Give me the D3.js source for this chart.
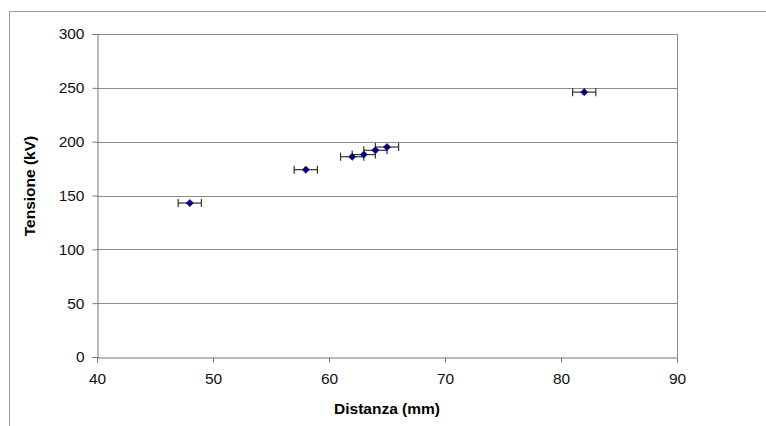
<!DOCTYPE html>
<html>
<head>
<meta charset="utf-8">
<script src="https://cdn.jsdelivr.net/npm/d3@7"></script>
<style>
  body { margin: 0; background: #fff; }
  text { font-family: "Liberation Sans", Arial, sans-serif; }
</style>
</head>
<body>
<script>
const distanza = [48, 58, 62, 63, 64, 65, 82]
const tensione = [143, 174, 186, 188, 192, 195, 246]
const errDistanza = [1, 1, 1, 1, 1, 1, 1]
const xTicks = [40, 50, 60, 70, 80, 90]
const yTicks = [0, 50, 100, 150, 200, 250, 300]

const width = 766, height = 426
const margin = { left: 97, right: 89, top: 34, bottom: 69 }

const svg = d3.select('body').append('svg')
    .attr('width', width)
    .attr('height', height)

// outer chart frame (only top and left are visible)
svg.append('path')
    .attr('d', `M9.5,${height} V11.5 H${width}`)
    .attr('fill', 'none')
    .attr('stroke', '#9a9a9a')
    .attr('stroke-width', 1)

const x = d3.scaleLinear().domain([40, 90]).range([margin.left, width - margin.right])
const y = d3.scaleLinear().domain([0, 300]).range([height - margin.bottom, margin.top])

// gridlines
svg.append('g').selectAll('line')
    .data(yTicks.slice(1))
    .enter().append('line')
    .attr('x1', x(40)).attr('x2', x(90))
    .attr('y1', d => Math.round(y(d)) + 0.5).attr('y2', d => Math.round(y(d)) + 0.5)
    .attr('stroke', '#8c8c8c')

// right border of plot area
svg.append('line')
    .attr('x1', Math.round(x(90)) + 0.5).attr('x2', Math.round(x(90)) + 0.5)
    .attr('y1', y(300)).attr('y2', y(0))
    .attr('stroke', '#8c8c8c')

const yAxis = svg.append('g')
    .attr('transform', `translate(${Math.round(x(40)) + 0.5},0)`)
    .call(d3.axisLeft(y).tickValues(yTicks).tickSize(5).tickPadding(8))
const xAxis = svg.append('g')
    .attr('transform', `translate(0,${Math.round(y(0)) + 0.5})`)
    .call(d3.axisBottom(x).tickValues(xTicks).tickSize(5).tickPadding(10))

;[yAxis, xAxis].forEach(a => {
    a.select('.domain').attr('stroke', '#777')
    a.selectAll('.tick line').attr('stroke', '#777')
    a.selectAll('.tick text')
        .attr('fill', '#111')
        .style('font-size', '15.5px')
        .style('font-family', '"Liberation Sans", Arial, sans-serif')
})

// error bars
const capH = 4
const eb = svg.append('g').selectAll('g')
    .data(distanza)
    .enter().append('g')
eb.append('line')
    .attr('x1', (d, i) => x(d - errDistanza[i]))
    .attr('x2', (d, i) => x(d + errDistanza[i]))
    .attr('y1', (d, i) => y(tensione[i]))
    .attr('y2', (d, i) => y(tensione[i]))
    .attr('stroke', '#333')
    .attr('stroke-width', 1.2)
eb.append('line')
    .attr('x1', (d, i) => x(d - errDistanza[i]))
    .attr('x2', (d, i) => x(d - errDistanza[i]))
    .attr('y1', (d, i) => y(tensione[i]) - capH)
    .attr('y2', (d, i) => y(tensione[i]) + capH)
    .attr('stroke', '#333')
    .attr('stroke-width', 1.2)
eb.append('line')
    .attr('x1', (d, i) => x(d + errDistanza[i]))
    .attr('x2', (d, i) => x(d + errDistanza[i]))
    .attr('y1', (d, i) => y(tensione[i]) - capH)
    .attr('y2', (d, i) => y(tensione[i]) + capH)
    .attr('stroke', '#333')
    .attr('stroke-width', 1.2)

// diamond markers
svg.append('g').selectAll('path')
    .data(distanza)
    .enter().append('path')
    .attr('d', (d, i) => {
        const cx = x(d), cy = y(tensione[i]), r = 3.6
        return `M${cx},${cy - r} L${cx + r},${cy} L${cx},${cy + r} L${cx - r},${cy} Z`
    })
    .attr('fill', '#000080')
    .attr('stroke', '#000080')
    .attr('stroke-width', 0.6)

// axis titles
svg.append('text')
    .attr('x', x(65))
    .attr('y', 414)
    .attr('text-anchor', 'middle')
    .style('font-size', '15.5px')
    .style('font-weight', 'bold')
    .text('Distanza (mm)')

svg.append('text')
    .attr('transform', `translate(35,186) rotate(-90)`)
    .attr('text-anchor', 'middle')
    .style('font-size', '15.5px')
    .style('font-weight', 'bold')
    .text('Tensione (kV)')
</script>
</body>
</html>
